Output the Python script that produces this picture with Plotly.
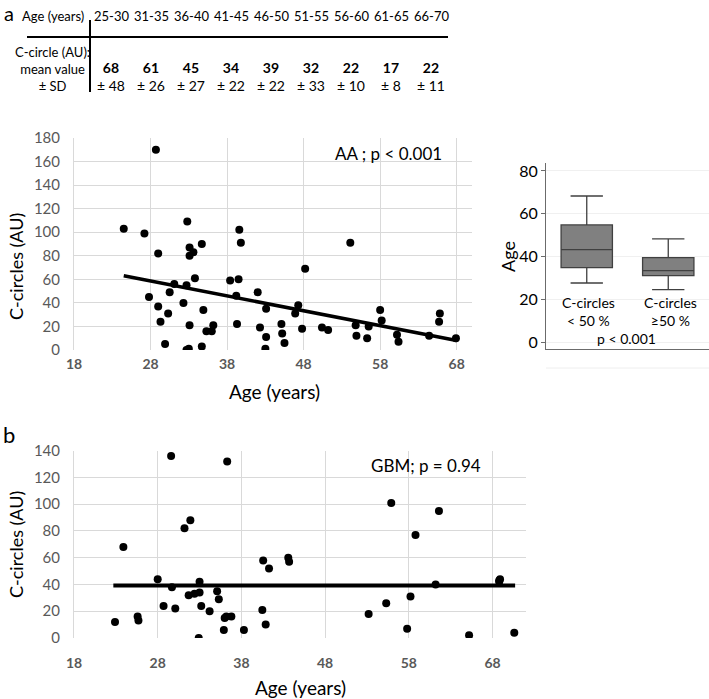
import plotly.graph_objects as go

W, H = 709, 699
def px(x): return x / W
def py(y): return 1 - y / H

FONT = "Lato"
GRAY = "#595959"
GRID = "#d9d9d9"

# ---------------- data ----------------
age_groups = ["25-30", "31-35", "36-40", "41-45", "46-50", "51-55", "56-60", "61-65", "66-70"]
mean_vals = [68, 61, 45, 34, 39, 32, 22, 17, 22]
sd_vals = [48, 26, 27, 22, 22, 33, 10, 8, 11]

aa_age = [24.5, 28.7, 27.2, 29.0, 27.8, 29.0, 29.3, 29.9, 30.3, 30.5, 31.1, 32.8, 33.1, 33.1, 33.6,
          33.8, 32.7, 32.3, 33.1, 32.7, 33.0, 34.7, 34.9, 34.7, 35.3, 36.0, 36.2, 38.4, 39.6, 39.8,
          39.5, 39.2, 39.3, 42.0, 42.3, 43.1, 43.1, 43.0, 45.1, 45.2, 45.5, 48.2, 47.3, 46.9, 47.8,
          50.4, 51.2, 54.1, 54.8, 54.9, 56.5, 56.3, 58.0, 58.2, 60.2, 60.4, 64.4, 65.8, 65.7, 67.9]
aa_cc = [103, 170, 99, 82, 45, 37, 24, 5, 31, 49, 56, 109, 87, 80, 83,
         61, 55, 40, 21, 0, 1, 90, 34, 3, 16, 16, 21, 59, 102, 91,
         60, 46, 22, 49, 19, 35, 11, 1, 22, 14, 6, 69, 38, 31, 18,
         19, 17, 91, 21, 12, 20, 10, 34, 25, 13, 7, 12, 31, 24, 10]
aa_trend_x = [24.5, 68]
aa_trend_y = [63, 8]

gbm_age = [22.9, 23.9, 25.6, 25.7, 28.0, 28.7, 29.6, 29.7, 30.1, 31.2, 31.9, 31.7, 32.4, 33.0, 33.0,
           33.2, 32.9, 34.2, 35.1, 35.3, 36.3, 36.0, 36.2, 36.8, 35.9, 38.3, 40.6, 41.3, 40.5, 40.9,
           43.6, 43.7, 53.2, 55.3, 55.9, 57.8, 58.2, 58.8, 61.2, 61.6, 65.2, 68.8, 68.9, 68.8, 70.6]
gbm_cc = [12, 68, 16, 13, 44, 24, 136, 38, 22, 82, 88, 32, 33, 34, 42,
          24, 0, 20, 35, 29, 132, 15, 16, 16, 6, 6, 58, 52, 21, 10,
          60, 57, 18, 26, 101, 7, 31, 77, 40, 95, 2, 43, 44, 42, 4]
gbm_trend_x = [22.7, 70.7]
gbm_trend_y = [39.3, 39.3]

box_groups = ["C-circles<br>< 50 %", "C-circles<br>≥50 %"]
box_q1 = [34.9, 31.1]
box_median = [43.3, 33.5]
box_q3 = [54.8, 39.5]
box_low = [27.7, 24.6]
box_high = [68.3, 48.3]

x_ticks = [18, 28, 38, 48, 58, 68]

# ---------------- figure ----------------
fig = go.Figure()

fig.add_trace(go.Scatter(x=aa_age, y=aa_cc, mode="markers", xaxis="x", yaxis="y",
                         marker=dict(color="black", size=8), showlegend=False))
fig.add_trace(go.Scatter(x=aa_trend_x, y=aa_trend_y, mode="lines", xaxis="x", yaxis="y",
                         line=dict(color="black", width=3.5), showlegend=False))

for i in range(2):
    fig.add_trace(go.Box(x=[i], q1=[box_q1[i]], median=[box_median[i]], q3=[box_q3[i]],
                         lowerfence=[box_low[i]], upperfence=[box_high[i]],
                         xaxis="x2", yaxis="y2", fillcolor="#808080",
                         line=dict(color="#404040", width=1.3), width=0.63, whiskerwidth=0.63,
                         boxpoints=False, showlegend=False))

fig.add_trace(go.Scatter(x=gbm_age, y=gbm_cc, mode="markers", xaxis="x3", yaxis="y3",
                         marker=dict(color="black", size=8), showlegend=False))
fig.add_trace(go.Scatter(x=gbm_trend_x, y=gbm_trend_y, mode="lines", xaxis="x3", yaxis="y3",
                         line=dict(color="black", width=4), showlegend=False))

tickfont_x = dict(family=FONT, size=14, color=GRAY, weight="bold")
tickfont_y = dict(family=FONT, size=15, color=GRAY)

fig.update_layout(
    template="none",
    width=W, height=H, margin=dict(l=0, r=0, t=0, b=0, autoexpand=False),
    paper_bgcolor="white", plot_bgcolor="white",
    font=dict(family=FONT, color="black"),
    xaxis=dict(domain=[px(74), px(472)], range=[18, 70], tickvals=x_ticks, automargin=False,
               showgrid=True, gridcolor=GRID, zeroline=False, showline=False,
               tickfont=tickfont_x, ticks="", ticklabelstandoff=4, anchor="y"),
    yaxis=dict(domain=[py(350), py(138)], range=[0, 180], dtick=20, automargin=False,
               showgrid=True, gridcolor=GRID, zeroline=False, showline=True, linecolor=GRID,
               tickfont=tickfont_y, ticks="", ticklabelstandoff=10, anchor="x"),
    xaxis2=dict(domain=[px(546), 1.0], range=[-0.5, 1.5], showticklabels=False, automargin=False,
                showgrid=False, zeroline=False, showline=True, linecolor="#6b6b6b", linewidth=1,
                ticks="", anchor="y2"),
    yaxis2=dict(domain=[py(349), py(163)], range=[-3.1, 83.7], tickvals=[0, 20, 40, 60, 80],
                automargin=False,
                showgrid=True, gridcolor="#f0f0f0", zeroline=False, showline=True,
                linecolor="#6b6b6b", linewidth=1, ticks="outside", ticklen=4, tickcolor="#6b6b6b",
                tickfont=dict(family=FONT, size=16, color="black"), anchor="x2"),
    xaxis3=dict(domain=[px(74), px(526)], range=[18, 72], tickvals=x_ticks, automargin=False,
                showgrid=True, gridcolor=GRID, zeroline=False, showline=False,
                tickfont=tickfont_x, ticks="", ticklabelstandoff=15, anchor="y3"),
    yaxis3=dict(domain=[py(638), py(450.7)], range=[0, 140], dtick=20, automargin=False,
                showgrid=True, gridcolor=GRID, zeroline=False, showline=True, linecolor=GRID,
                tickfont=tickfont_y, ticks="", ticklabelstandoff=10, anchor="x3"),
)

ann = []
def A(text, x, y, size=14, xanchor="center", yanchor="middle", bold=False, angle=0, color="black", align="center"):
    ann.append(dict(text=text, x=px(x), y=py(y), xref="paper", yref="paper", showarrow=False,
                    xanchor=xanchor, yanchor=yanchor, textangle=angle, align=align, borderpad=0,
                    font=dict(family=FONT, size=size, color=color, weight="bold" if bold else "normal")))

# panel letters
A("a", 3, 0.5, size=20, xanchor="left", yanchor="top")
A("b", 2, 434, size=22, xanchor="left")

# table
TS = 13
A("Age (years)", 85, 16, size=TS, xanchor="right")
A("C-circle (AU):<br>mean value<br>± SD", 52, 69, size=TS)
for i, g in enumerate(age_groups):
    cx = 111 + 40.0 * i
    A(g, cx, 16, size=TS)
    A("<b>" + str(mean_vals[i]) + "</b><br>± " + str(sd_vals[i]), cx, 77, size=TS + 1)

# axis titles
A("C-circles (AU)", 16, 267, size=18, angle=-90)
A("Age (years)", 274, 391, size=19)
A("C-circles (AU)", 16, 545, size=18, angle=-90)
A("Age (years)", 300, 687, size=19)
A("Age", 508, 257, size=18, angle=-90)

# in-plot labels
A("AA ; p < 0.001", 443, 153, size=17, xanchor="right")
A("GBM; p = 0.94", 482, 465, size=17, xanchor="right")
A(box_groups[0], 588, 311, size=14)
A(box_groups[1], 670, 311, size=14)
A("p < 0.001", 626, 338, size=14)

fig.update_layout(annotations=ann)

shapes = [
    dict(type="line", xref="paper", yref="paper", x0=px(27), x1=px(448), y0=py(37), y1=py(37),
         line=dict(color="black", width=2)),
    dict(type="line", xref="paper", yref="paper", x0=px(90), x1=px(90), y0=py(20), y1=py(92),
         line=dict(color="black", width=2)),
    dict(type="line", xref="paper", yref="paper", x0=px(546), x1=1.0, y0=py(368), y1=py(368),
         line=dict(color="#eeeeee", width=1)),
]
fig.update_layout(shapes=shapes)

fig.write_html("out.html", config={"displayModeBar": False},
               post_script="document.body.style.margin='0';document.body.style.overflow='hidden';")
